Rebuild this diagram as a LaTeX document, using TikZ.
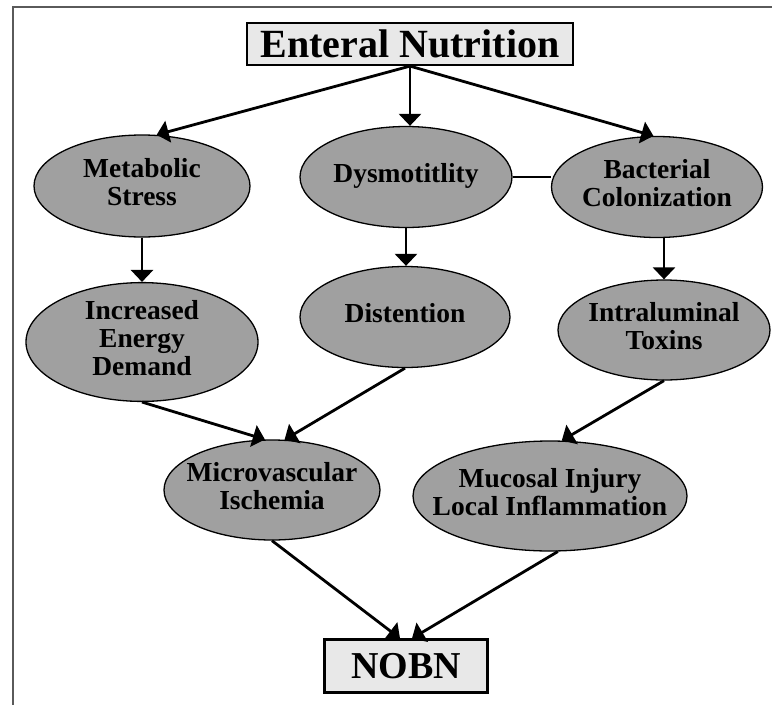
\documentclass[tikz,border=0pt]{standalone}
\usepackage{fontspec}
\setmainfont{Liberation Serif}
\usetikzlibrary{shapes.geometric,arrows.meta,calc}
\definecolor{ellfill}{RGB}{160,160,160}
\definecolor{boxfill}{RGB}{232,232,232}
\definecolor{framecol}{RGB}{90,90,90}
\newcommand{\etxt}[1]{\makebox[0pt]{\begin{tabular}{@{}c@{}}#1\end{tabular}}}
\begin{document}
\begin{tikzpicture}[x=1pt,y=-1pt,
  oval/.style={ellipse,draw=black,line width=1.3pt,fill=ellfill,inner sep=0pt,
    font=\fontsize{27.5}{28}\selectfont\bfseries},
  topbox/.style={rectangle,draw=black,line width=2.2pt,fill=boxfill,inner sep=0pt},
  arr/.style={line width=2.8pt,-{Triangle[width=22pt,length=12pt]}},
  link/.style={line width=1.5pt}]
\useasboundingbox (0,0) rectangle (772,705);
\draw[framecol,line width=2pt] (772,7) -- (13,7) -- (13,705);
% nodes
\node[topbox,minimum width=326pt,minimum height=42pt,font=\fontsize{40}{42}\selectfont\bfseries] (en) at (410,44) {Enteral Nutrition};
\node[oval,minimum width=216pt,minimum height=102pt] (ms) at (142,186) {\etxt{Metabolic\\Stress}};
\node[oval,minimum width=212pt,minimum height=101pt] (dy) at (406,177) {\etxt{Dysmotitlity}};
\node[oval,minimum width=211pt,minimum height=101pt] (bc) at (657,187) {\etxt{Bacterial\\Colonization}};
\node[oval,minimum width=232pt,minimum height=110pt] (ied) at (142,342) {\etxt{Increased\\Energy\\Demand}};
\node[oval,minimum width=210pt,minimum height=101pt] (di) at (405,317) {\etxt{Distention}};
\node[oval,minimum width=212pt,minimum height=100pt] (it) at (664,330) {\etxt{Intraluminal\\Toxins}};
\node[oval,minimum width=216pt,minimum height=100pt] (mi) at (272,490) {\etxt{Microvascular\\Ischemia}};
\node[oval,minimum width=274pt,minimum height=110pt] (mu) at (550,496) {\etxt{Mucosal Injury\\Local Inflammation}};
\node[topbox,minimum width=163pt,minimum height=53pt,font=\fontsize{38}{40}\selectfont\bfseries] (nobn) at (406,666) {NOBN};
% connectors
\draw[arr] (en.south) -- (ms.74);
\draw[arr] (en.south) -- (en.south |- dy.north);
\draw[arr] (en.south) -- (bc.94);
\draw[link] (dy.east) -- (dy.east -| bc.west);
\draw[arr] (ms.south) -- (ms.south |- ied.north);
\draw[arr] (dy.south) -- (dy.south |- di.north);
\draw[arr] (bc.south -| it.north) -- (it.north);
\draw[arr] (ied.south) -- (mi.98);
\draw[arr] (di.south) -- (mi.76);
\draw[arr] (it.south) -- (mu.78);
\draw[arr] (mi.south) -- ($(nobn.north)+(-6,0)$);
\draw[arr] (mu.-82) -- ($(nobn.north)+(6,0)$);
\end{tikzpicture}
\end{document}
